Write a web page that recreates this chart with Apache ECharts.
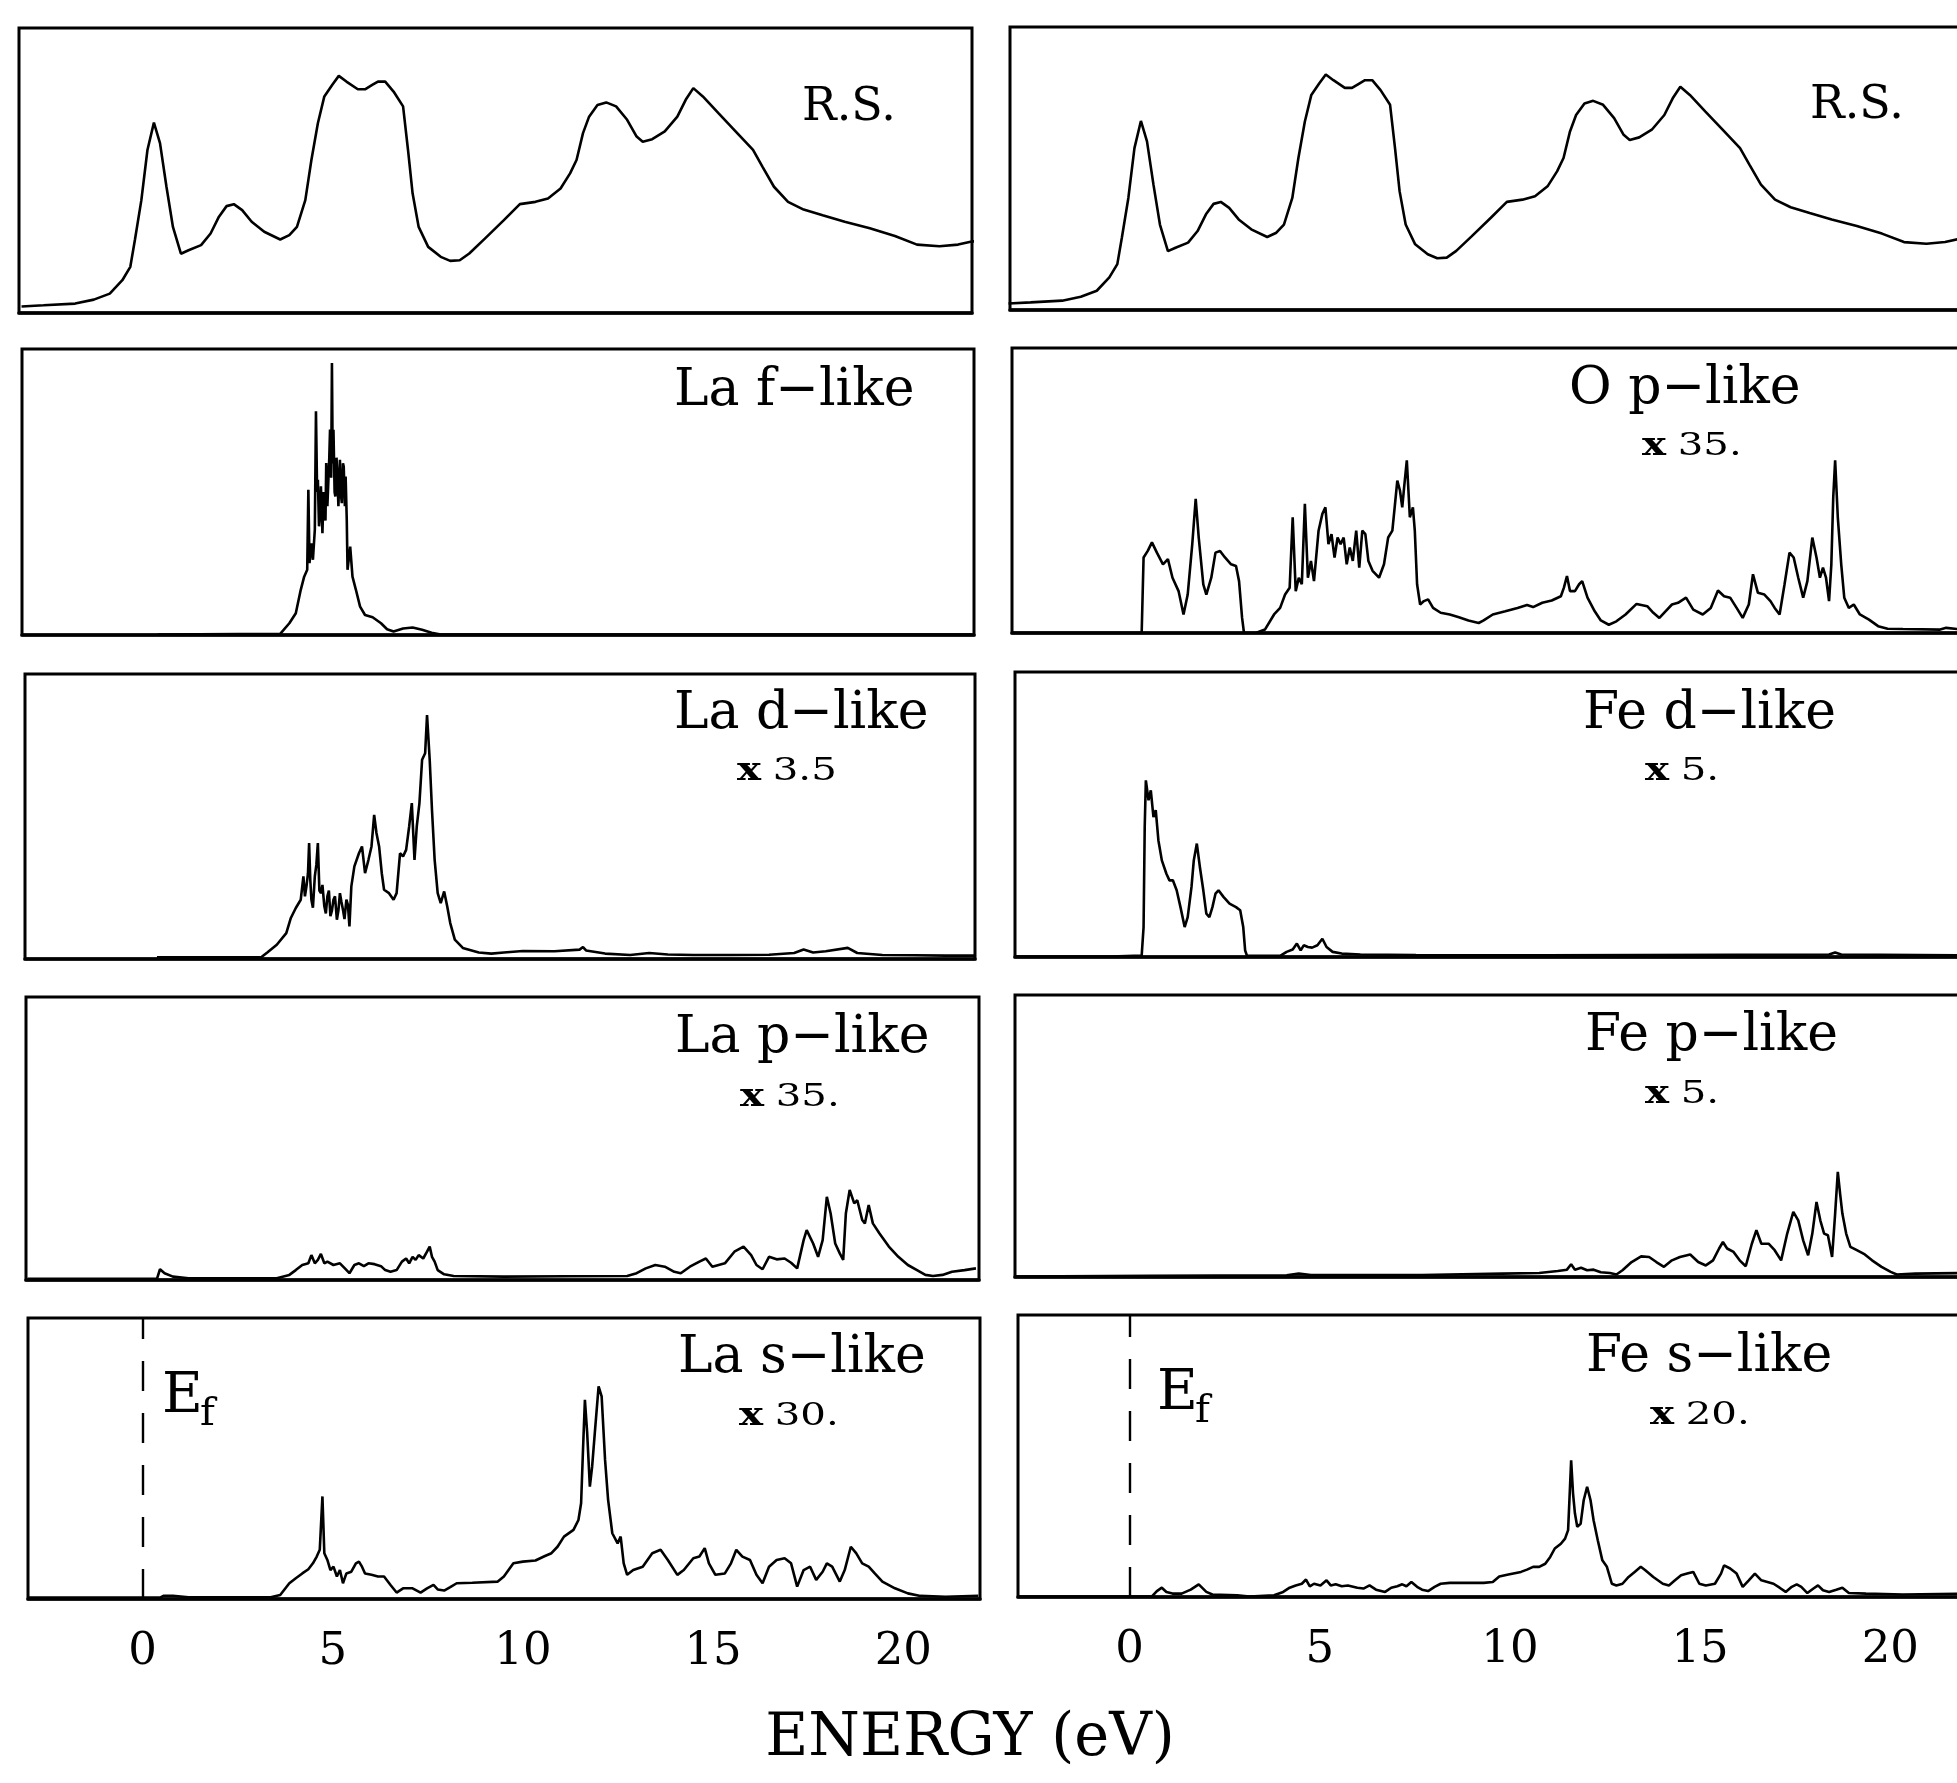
<!DOCTYPE html>
<html><head><meta charset="utf-8">
<script src="https://cdn.jsdelivr.net/npm/echarts@6/dist/echarts.min.js"></script>
<style>html,body{margin:0;padding:0;background:#fff}#c{width:1957px;height:1783px}</style>
</head><body><div id="c"></div><script>
// Energy tick labels (eV)
const tickLabels = [0, 5, 10, 15, 20];
const fermiEnergy = 0;

// Panel titles and scale factors
const leftTitles = ['R.S.', 'La f\u2212like', 'La d\u2212like', 'La p\u2212like', 'La s\u2212like'];
const leftScales = ['', '', '3.5', '35.', '30.'];
const rightTitles = ['R.S.', 'O p\u2212like', 'Fe d\u2212like', 'Fe p\u2212like', 'Fe s\u2212like'];
const rightScales = ['', '35.', '5.', '5.', '20.'];

// [energy (eV), relative DOS (% of panel height)]
const rsDos = [[-3.18,2.3],[-2.60,2.7],[-1.77,3.3],[-1.28,4.7],[-0.86,6.8],[-0.53,11.5],[-0.32,16.2],[-0.20,25.6],[-0.03,39.6],[0.13,57.2],[0.30,66.8],[0.46,59.6],[0.63,44.3],[0.80,30.2],[1.01,20.8],[1.21,22.0],[1.54,23.8],[1.79,27.9],[2.01,33.8],[2.21,37.5],[2.40,38.2],[2.62,36.1],[2.87,32.0],[3.20,28.5],[3.62,25.8],[3.86,27.3],[4.06,30.2],[4.28,39.6],[4.44,53.7],[4.61,66.6],[4.78,76.0],[4.99,80.1],[5.16,83.2],[5.36,81.2],[5.66,78.5],[5.85,78.5],[6.05,80.1],[6.19,81.2],[6.38,81.2],[6.60,77.7],[6.85,72.5],[6.98,57.2],[7.10,42.0],[7.26,30.2],[7.51,23.2],[7.84,19.7],[8.09,18.3],[8.34,18.5],[8.59,20.9],[9.00,26.1],[9.50,32.6],[9.92,38.2],[10.33,39.0],[10.66,40.2],[10.99,43.7],[11.24,49.0],[11.41,53.7],[11.58,63.1],[11.74,68.9],[11.96,73.0],[12.19,73.9],[12.45,72.5],[12.74,67.8],[12.99,61.9],[13.15,60.1],[13.40,61.0],[13.73,63.7],[14.06,68.9],[14.28,74.8],[14.48,78.9],[14.73,76.0],[15.14,70.1],[15.56,64.2],[16.05,57.2],[16.30,51.3],[16.60,44.3],[16.97,39.0],[17.38,36.3],[17.88,34.3],[18.46,32.0],[19.12,29.7],[19.78,27.0],[20.36,24.0],[20.95,23.4],[21.44,24.0],[21.77,25.0],[21.95,25.3]];

const laF = [[0.40,0.2],[3.62,0.4],[3.86,4.1],[4.03,7.6],[4.16,15.8],[4.25,20.4],[4.33,22.8],[4.36,50.8],[4.39,25.1],[4.44,32],[4.48,26.3],[4.53,36.8],[4.56,78.2],[4.59,50],[4.61,54.3],[4.64,38],[4.66,41.4],[4.69,52],[4.73,35.6],[4.76,50],[4.78,46.1],[4.81,40],[4.83,60.1],[4.86,45],[4.88,51.9],[4.91,62],[4.93,71.8],[4.96,55],[4.98,95.1],[5.00,60],[5.02,71.8],[5.05,50],[5.07,48.4],[5.10,62],[5.12,56.6],[5.15,45],[5.19,61.3],[5.21,50],[5.24,46.1],[5.27,60],[5.29,58.9],[5.32,45],[5.34,55.4],[5.37,40],[5.39,22.8],[5.46,30.9],[5.52,20.4],[5.61,15.8],[5.72,9.9],[5.85,7.0],[6.05,6.2],[6.27,4.1],[6.43,2.0],[6.60,1.2],[6.85,2.3],[7.10,2.6],[7.35,1.8],[7.60,0.8],[7.84,0.2],[21.80,0.2]];

const laD = [[0.38,0.6],[3.12,0.6],[3.28,2.3],[3.53,5.0],[3.78,9.1],[3.90,14.4],[4.03,17.9],[4.16,20.8],[4.23,29.0],[4.27,22],[4.31,25.5],[4.35,30],[4.38,40.7],[4.41,28],[4.44,20.8],[4.48,18],[4.53,29.0],[4.57,33],[4.61,40.7],[4.65,24],[4.69,23.1],[4.73,26],[4.78,18.5],[4.82,16],[4.86,22.0],[4.90,24],[4.94,15.0],[4.98,17],[5.02,20.8],[5.06,22],[5.11,13.8],[5.15,17],[5.19,23.1],[5.23,20],[5.27,17.3],[5.31,14],[5.36,20.8],[5.40,19],[5.44,11.4],[5.49,25.5],[5.57,32.5],[5.69,37.1],[5.77,39.5],[5.85,30.1],[5.94,34.8],[6.02,39.5],[6.09,50.6],[6.15,44.2],[6.22,39.5],[6.29,30.1],[6.35,24.3],[6.48,23.1],[6.60,20.8],[6.68,23.1],[6.77,37.1],[6.85,36.0],[6.93,38.3],[7.01,46.5],[7.08,54.7],[7.15,34.8],[7.21,46.5],[7.28,54.7],[7.35,69.9],[7.43,72.2],[7.48,85.6],[7.55,69.9],[7.61,52.3],[7.68,34.8],[7.76,23.1],[7.84,19.6],[7.93,23.7],[8.01,18.5],[8.09,12.6],[8.21,6.8],[8.42,3.9],[8.84,2.3],[9.17,1.9],[9.50,2.3],[10.00,2.8],[10.83,2.7],[11.49,3.3],[11.58,4.2],[11.66,3.0],[12.16,1.9],[12.82,1.4],[13.32,2.1],[13.81,1.6],[14.48,1.4],[15.47,1.4],[16.47,1.5],[17.13,2.1],[17.38,3.3],[17.63,2.3],[17.96,2.7],[18.54,3.9],[18.79,2.1],[19.45,1.4],[20.28,1.3],[21.11,1.2],[21.86,1.2]];

const laP = [[-3.02,0.4],[0.38,0.4],[0.46,3.8],[0.58,2.4],[0.80,1.2],[1.21,0.6],[3.53,0.6],[3.86,1.8],[4.03,3.5],[4.20,5.3],[4.36,5.9],[4.44,8.8],[4.53,5.9],[4.61,7.1],[4.69,9.2],[4.78,5.9],[4.86,6.5],[5.02,5.3],[5.19,5.9],[5.32,4.1],[5.44,2.4],[5.57,5.3],[5.69,5.9],[5.82,4.9],[5.94,5.9],[6.10,5.6],[6.27,4.9],[6.38,3.5],[6.52,2.9],[6.68,3.5],[6.82,6.5],[6.93,7.6],[7.01,5.9],[7.10,8.2],[7.18,7.1],[7.26,8.8],[7.38,7.6],[7.48,10.0],[7.55,11.8],[7.61,8.2],[7.68,6.5],[7.76,3.5],[7.93,2.0],[8.18,1.4],[9.50,1.2],[11.16,1.3],[12.74,1.4],[12.99,2.4],[13.23,4.1],[13.48,5.3],[13.73,4.7],[13.98,2.9],[14.15,2.4],[14.39,4.7],[14.64,6.5],[14.81,7.6],[14.98,4.7],[15.31,5.9],[15.56,10.0],[15.80,11.8],[16.00,8.8],[16.14,5.3],[16.30,3.8],[16.47,8.2],[16.67,7.3],[16.88,7.6],[17.05,6.1],[17.21,4.1],[17.38,14.1],[17.46,17.6],[17.63,12.9],[17.76,8.2],[17.88,14.1],[17.99,29.4],[18.09,23.5],[18.21,12.9],[18.33,9.4],[18.42,7.1],[18.49,23.5],[18.59,31.8],[18.71,27.1],[18.79,28.2],[18.92,21.2],[18.99,20.0],[19.09,26.5],[19.20,20.0],[19.37,16.5],[19.62,11.8],[19.87,8.2],[20.12,5.3],[20.36,3.5],[20.58,1.8],[20.78,1.4],[21.03,1.8],[21.28,2.9],[21.61,3.5],[21.91,4.1]];

const laS = [[-3.02,0.5],[0.46,0.5],[0.55,1.1],[0.80,1.1],[1.21,0.6],[3.37,0.6],[3.62,1.4],[3.86,5.6],[4.03,7.4],[4.20,9.1],[4.36,10.6],[4.48,12.7],[4.58,15.1],[4.66,17.5],[4.73,36.5],[4.78,16.3],[4.86,13.9],[4.94,10.3],[5.02,11.5],[5.11,8.0],[5.19,10.3],[5.27,5.6],[5.36,9.1],[5.49,9.7],[5.61,12.7],[5.69,13.3],[5.77,11.5],[5.85,9.1],[6.02,8.6],[6.19,8.0],[6.35,8.0],[6.52,5.0],[6.68,2.3],[6.85,3.8],[7.10,3.8],[7.31,2.3],[7.48,3.8],[7.65,5.0],[7.76,3.4],[7.93,3.0],[8.09,4.2],[8.26,5.6],[8.67,5.8],[9.34,6.2],[9.50,8.0],[9.75,12.7],[10.00,13.3],[10.33,13.7],[10.58,15.3],[10.75,16.3],[10.91,18.6],[11.08,22.2],[11.33,24.6],[11.46,28.1],[11.53,34.1],[11.58,53.1],[11.63,70.9],[11.69,59.0],[11.76,40.0],[11.82,47.1],[11.89,59.0],[11.99,75.7],[12.07,72.1],[12.16,49.5],[12.24,35.3],[12.35,23.4],[12.49,19.8],[12.57,22.2],[12.65,12.7],[12.74,8.6],[12.90,10.3],[13.15,11.5],[13.40,16.3],[13.62,17.5],[13.81,13.9],[14.06,8.6],[14.23,10.3],[14.48,14.5],[14.64,15.1],[14.78,18.1],[14.89,12.7],[15.06,8.6],[15.31,9.1],[15.47,12.7],[15.61,17.5],[15.77,15.1],[15.97,13.9],[16.14,8.6],[16.30,5.6],[16.47,11.5],[16.67,13.9],[16.88,14.5],[17.05,12.7],[17.21,4.4],[17.38,10.3],[17.55,11.5],[17.71,6.8],[17.88,9.7],[17.99,12.7],[18.13,11.5],[18.33,6.2],[18.46,10.3],[18.62,18.6],[18.76,16.3],[18.92,12.7],[19.09,11.5],[19.25,9.1],[19.45,6.2],[19.78,3.8],[20.12,2.0],[20.45,1.1],[21.11,0.8],[21.97,1.1]];

const oP = [[-3.09,0],[0.32,0],[0.37,26.5],[0.48,28.8],[0.59,31.8],[0.72,28.2],[0.88,24.1],[1.01,25.9],[1.13,19.4],[1.29,14.7],[1.42,6.5],[1.53,13.5],[1.65,31.2],[1.74,47.1],[1.82,33.5],[1.94,17.1],[2.02,13.5],[2.15,19.4],[2.26,28.2],[2.38,28.8],[2.51,26.5],[2.67,24.1],[2.80,23.5],[2.88,18.2],[2.96,5.3],[3.01,0],[3.32,0],[3.56,1.2],[3.80,6.5],[3.96,8.8],[4.09,13.5],[4.21,15.9],[4.29,40.6],[4.37,14.7],[4.45,19.4],[4.53,17.1],[4.61,45.3],[4.69,19.4],[4.77,25.3],[4.85,18.2],[4.97,35.9],[5.07,41.8],[5.15,44.1],[5.23,31.2],[5.31,34.7],[5.39,26.5],[5.47,33.5],[5.55,31.2],[5.63,33.5],[5.71,24.1],[5.79,30.0],[5.87,25.3],[5.96,35.9],[6.04,22.9],[6.12,35.9],[6.20,34.7],[6.28,25.3],[6.39,21.8],[6.56,19.4],[6.69,24.1],[6.80,33.5],[6.91,35.9],[6.98,45.3],[7.04,53.5],[7.11,50.0],[7.17,44.1],[7.22,51.2],[7.29,60.6],[7.37,40.6],[7.45,44.1],[7.50,35.9],[7.56,17.1],[7.64,10.0],[7.74,11.2],[7.85,11.8],[7.98,8.8],[8.18,7.1],[8.42,6.5],[8.66,5.5],[8.91,4.4],[9.18,3.5],[9.31,4.4],[9.55,6.5],[9.88,7.6],[10.20,8.8],[10.45,9.8],[10.61,9.1],[10.85,10.6],[11.10,11.4],[11.34,12.9],[11.42,15.9],[11.50,20.0],[11.58,14.7],[11.71,14.7],[11.82,17.1],[11.90,18.2],[12.04,12.4],[12.23,7.6],[12.39,4.4],[12.60,2.9],[12.80,4.1],[13.04,6.5],[13.33,10.2],[13.61,9.4],[13.77,7.1],[13.93,5.3],[14.09,7.6],[14.26,10.0],[14.42,10.6],[14.63,12.4],[14.82,8.2],[15.07,6.5],[15.28,8.8],[15.47,14.9],[15.63,12.9],[15.79,12.4],[15.96,8.8],[16.12,5.3],[16.28,10.0],[16.39,20.6],[16.52,14.1],[16.69,13.5],[16.85,11.2],[16.96,8.8],[17.09,6.5],[17.22,17.1],[17.35,28.2],[17.46,26.5],[17.58,19.4],[17.71,12.4],[17.82,18.2],[17.95,33.5],[18.06,26.5],[18.15,19.4],[18.23,22.9],[18.31,19.4],[18.39,11.2],[18.45,24.1],[18.50,47.6],[18.55,60.6],[18.62,40.6],[18.71,24.1],[18.79,12.4],[18.91,8.8],[19.04,10.0],[19.20,6.5],[19.44,4.7],[19.68,2.4],[19.93,1.5],[20.33,1.4],[21.31,1.2],[21.47,1.8],[21.76,1.4],[21.95,1.4]];

const feD = [[-3.00,0.2],[-0.49,0.2],[0.32,0.5],[0.37,10.5],[0.40,45.6],[0.43,62.0],[0.50,55.0],[0.56,58.5],[0.63,49.1],[0.69,51.5],[0.76,40.9],[0.85,33.9],[0.97,29.2],[1.05,26.9],[1.14,26.9],[1.24,23.4],[1.34,17.5],[1.45,10.5],[1.53,14.0],[1.63,24.6],[1.69,33.9],[1.77,39.8],[1.85,31.6],[1.94,23.4],[2.02,15.2],[2.10,14.0],[2.18,17.5],[2.26,22.2],[2.34,23.4],[2.47,21.1],[2.63,18.7],[2.80,17.5],[2.91,16.4],[2.99,10.5],[3.04,2.3],[3.09,0.4],[3.96,0.4],[4.13,1.8],[4.29,2.6],[4.40,4.7],[4.50,2.3],[4.58,4.1],[4.69,3.5],[4.80,3.3],[4.94,4.1],[5.07,6.4],[5.18,3.5],[5.34,1.8],[5.58,1.2],[6.07,0.9],[7.53,0.7],[10.93,0.6],[18.39,0.9],[18.55,1.6],[18.71,0.9],[21.95,0.6]];

const feP = [[-3.00,0.2],[0.56,0.4],[4.13,0.6],[4.45,1.2],[4.77,0.7],[7.69,0.7],[9.80,1.2],[10.77,1.4],[11.26,2.1],[11.50,2.6],[11.61,4.5],[11.71,2.6],[11.87,3.3],[12.03,2.4],[12.20,2.6],[12.39,1.7],[12.63,1.4],[12.80,0.9],[12.96,2.4],[13.20,5.3],[13.45,7.3],[13.66,7.1],[13.85,5.3],[14.05,3.6],[14.26,5.9],[14.47,7.1],[14.74,8.0],[14.95,5.3],[15.15,4.1],[15.34,5.9],[15.50,10.1],[15.60,12.4],[15.71,10.1],[15.88,8.9],[16.04,5.9],[16.20,3.8],[16.36,11.8],[16.48,16.6],[16.61,11.8],[16.80,11.8],[16.96,9.5],[17.13,5.9],[17.29,15.4],[17.45,23.1],[17.58,20.1],[17.71,13.0],[17.84,7.7],[17.95,15.4],[18.06,26.6],[18.16,20.1],[18.26,15.4],[18.36,14.8],[18.47,7.1],[18.55,22.5],[18.62,37.3],[18.68,29.6],[18.74,22.5],[18.84,15.4],[18.95,10.7],[19.12,9.5],[19.33,8.0],[19.52,5.9],[19.77,3.6],[20.01,1.8],[20.17,0.9],[20.66,1.2],[21.95,1.4]];

const feS = [[-2.93,0.2],[0.04,0.2],[0.59,0.2],[0.72,2.1],[0.85,3.3],[0.97,1.8],[1.13,1.2],[1.37,1.2],[1.61,2.6],[1.82,4.5],[2.02,1.8],[2.18,0.9],[2.83,0.6],[3.15,0.2],[3.80,0.6],[4.04,1.8],[4.21,3.3],[4.37,4.1],[4.53,4.7],[4.64,6.2],[4.74,3.8],[4.85,4.7],[5.02,4.1],[5.18,5.9],[5.29,4.1],[5.42,4.5],[5.58,3.8],[5.74,4.1],[5.99,3.3],[6.15,3.0],[6.31,4.1],[6.48,2.6],[6.72,1.8],[6.88,3.3],[7.04,3.8],[7.17,4.5],[7.28,3.8],[7.41,5.3],[7.56,3.6],[7.69,2.6],[7.85,2.1],[8.02,3.6],[8.18,4.7],[8.42,5.0],[8.83,5.0],[9.31,5.0],[9.55,5.3],[9.72,7.3],[9.96,8.0],[10.29,8.9],[10.45,9.7],[10.61,10.7],[10.77,10.7],[10.93,11.8],[11.06,14.2],[11.18,17.2],[11.34,18.9],[11.45,20.7],[11.53,23.7],[11.58,39.1],[11.61,48.5],[11.66,36.7],[11.71,29.6],[11.77,24.9],[11.86,26.0],[11.94,34.3],[12.03,39.1],[12.12,34.3],[12.20,27.2],[12.31,20.1],[12.43,13.0],[12.55,10.7],[12.68,4.7],[12.80,4.1],[12.96,4.7],[13.12,7.1],[13.28,8.9],[13.44,10.7],[13.56,9.5],[13.77,7.1],[14.02,4.7],[14.18,4.1],[14.34,5.9],[14.50,7.7],[14.66,8.3],[14.82,8.9],[14.98,4.7],[15.15,4.1],[15.39,4.7],[15.55,8.3],[15.63,11.2],[15.79,10.1],[15.96,8.3],[16.12,3.6],[16.28,5.9],[16.44,8.3],[16.61,5.9],[16.77,5.3],[16.93,4.7],[17.09,3.3],[17.25,1.8],[17.41,3.6],[17.54,4.5],[17.66,3.6],[17.82,1.4],[17.98,3.0],[18.10,4.1],[18.23,2.4],[18.39,1.8],[18.58,2.6],[18.74,3.3],[18.91,1.4],[19.36,1.2],[20.33,0.9],[21.95,1.2]];

// ---------- layout ----------
const PX_PER_EV = 38.04;
const colZero = [142.5, 1129.5];            // pixel of E = 0 in each column
const boxes = [                              // [left, top, width, height]
  [19, 28, 953, 285], [22, 349, 952, 286], [25, 674, 950, 285], [26, 997, 953, 283], [28, 1318, 952, 281],
  [1010, 27, 960, 283], [1012, 348, 960, 285], [1015, 672, 960, 285], [1015, 995, 960, 282], [1018, 1315, 960, 282]
];
const seriesData = [rsDos, laF, laD, laP, laS, rsDos, oP, feD, feP, feS];

const grids = [], xAxes = [], yAxes = [], series = [];
boxes.forEach((b, i) => {
  const col = i < 5 ? 0 : 1;
  const row = i % 5;
  const bottom = row === 4;
  grids.push({left: b[0], top: b[1], width: b[2], height: b[3], show: true,
    borderColor: '#000', borderWidth: 3, backgroundColor: 'transparent',
    containLabel: false, outerBoundsMode: 'none'});
  xAxes.push({type: 'value', gridIndex: i,
    min: (b[0] - colZero[col]) / PX_PER_EV, max: (b[0] + b[2] - colZero[col]) / PX_PER_EV,
    axisLine: {show: true, onZero: false, lineStyle: {color: '#000', width: 3.5}},
    axisTick: {show: false}, splitLine: {show: false},
    axisLabel: bottom ? {show: true, customValues: tickLabels, color: '#000',
      fontFamily: 'DejaVu Serif', fontSize: 45, margin: 31, formatter: v => String(v)} : {show: false}
  });
  yAxes.push({type: 'value', gridIndex: i, min: 0, max: 100, show: false});
  const s = {type: 'line', xAxisIndex: i, yAxisIndex: i, data: seriesData[i],
    showSymbol: false, symbol: 'none', silent: true, animation: false, clip: true,
    lineStyle: {color: '#000', width: 2.6}};
  if (bottom) {
    s.markLine = {symbol: ['none', 'none'], silent: true, animation: false, label: {show: false},
      lineStyle: {color: '#000', width: 2.4, type: [30, 22]}, data: [{xAxis: fermiEnergy}]};
  }
  series.push(s);
});

// ---------- text ----------
const serif = 'DejaVu Serif';
const graphic = [];
function txt(x, y, text, size, family, extra) {
  graphic.push({type: 'text', x: x, y: y, silent: true,
    style: Object.assign({text: text, fill: '#000', fontSize: size, fontFamily: family,
      align: 'left', verticalAlign: 'middle'}, extra || {})});
}
const titlePos = [[802,108,46],[674,391,52],[674,714,52],[675,1038,52],[678,1358,52],
                  [1810,106,46],[1569,389,52],[1583,714,52],[1585,1036,52],[1586,1357,52]];
const scalePos = [null,null,[737,772],[740,1098],[739,1417],
                  null,[1642,447],[1645,772],[1645,1095],[1650,1416]];
const titles = leftTitles.concat(rightTitles);
const scales = leftScales.concat(rightScales);
titles.forEach((t, i) => txt(titlePos[i][0], titlePos[i][1], t, titlePos[i][2], serif));
scales.forEach((s, i) => {
  if (!s) return;
  graphic.push({type: 'text', x: scalePos[i][0], y: scalePos[i][1], scaleX: 1.3, silent: true,
    style: {text: '{b|x}{n|' + s + '}', fill: '#000', align: 'left', verticalAlign: 'middle',
      rich: {b: {fontFamily: serif, fontSize: 31, fontWeight: 'bold', padding: [0, 9, 0, 0]},
             n: {fontFamily: serif, fontSize: 31}}}});
});
// E_f labels
[[162, 1397, 200, 1415], [1157, 1394, 1195, 1412]].forEach(p => {
  txt(p[0], p[1], 'E', 56, serif);
  txt(p[2], p[3], 'f', 40, serif);
});
graphic.push({type: 'text', x: 970, y: 1740, silent: true,
  style: {text: 'ENERGY (eV)', fill: '#000', fontSize: 59, fontFamily: serif, align: 'center', verticalAlign: 'middle'}});

const chart = echarts.init(document.getElementById('c'), null, {renderer: 'canvas', width: 1957, height: 1783});
chart.setOption({backgroundColor: '#fff', animation: false, grid: grids, xAxis: xAxes, yAxis: yAxes,
  series: series, graphic: graphic});
</script></body></html>
